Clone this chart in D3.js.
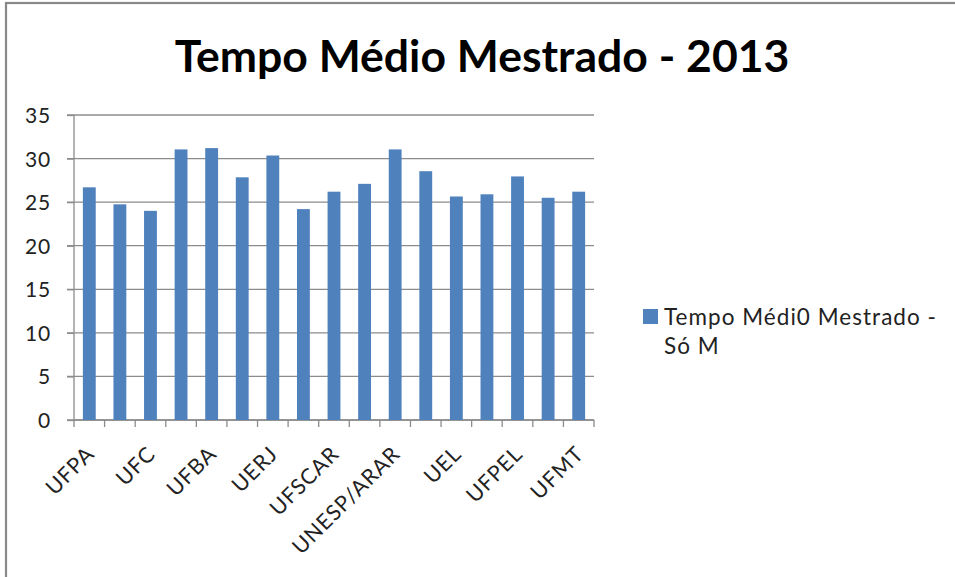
<!DOCTYPE html>
<html><head><meta charset="utf-8">
<script src="https://cdn.jsdelivr.net/npm/d3@7"></script>
<style>body{margin:0;background:#fff}svg{display:block}</style>
</head><body>
<svg id="c" width="955" height="577"></svg>
<script>
const categories = ["UFPA","UFPE","UFC","UFRN","UFBA","UFMG","UERJ","UFRJ","UFSCAR","USP","UNESP/ARAR","UFPR","UEL","UFSC","UFPEL","UFRGS","UFMT"];
const values = [26.7,24.75,24.0,31.05,31.2,27.85,30.35,24.2,26.2,27.1,31.05,28.55,25.65,25.9,27.95,25.5,26.2];
const yTicks = [0,5,10,15,20,25,30,35];
const title = "Tempo Médio Mestrado - 2013";
const legendLines = ["Tempo Médi0 Mestrado -","Só M"];
const font = "Lato, 'Open Sans', sans-serif";

const svg = d3.select("#c");
svg.append("rect").attr("x",6).attr("y",3).attr("width",960).attr("height",600)
  .attr("fill","#fff").attr("stroke","#888").attr("stroke-width",2.2);

const L=74,R=594,T=115,B=420;
const x = d3.scaleBand().domain(categories).range([L,R]).paddingInner(0.58).paddingOuter(0.29);
const y = d3.scaleLinear().domain([0,35]).range([B,T]);

// gridlines
svg.append("g").selectAll("line").data(yTicks).join("line")
  .attr("x1",67).attr("x2",R).attr("y1",d=>y(d)).attr("y2",d=>y(d))
  .attr("stroke","#8c8c8c").attr("stroke-width",1.3);

// y axis
const ya = svg.append("g").attr("transform",`translate(${L},0)`)
  .call(d3.axisLeft(y).tickValues(yTicks).tickSize(7).tickPadding(16));
ya.select(".domain").attr("stroke","#8c8c8c").attr("stroke-width",1.3).attr("d",`M0,${B}V${T}`);
ya.selectAll(".tick line").attr("stroke","#8c8c8c").attr("stroke-width",1.3);
ya.selectAll("text").attr("font-family",font).attr("font-size",21).attr("fill","#222")
  .attr("dy","0.36em").attr("letter-spacing",0.8);

// x axis
const xg = svg.append("g");
xg.append("line").attr("x1",L).attr("x2",R).attr("y1",B).attr("y2",B).attr("stroke","#8c8c8c").attr("stroke-width",1.3);
const edges = d3.range(categories.length+1).map(i=>L+i*(R-L)/categories.length);
xg.selectAll("line.t").data(edges).join("line").attr("class","t")
  .attr("x1",d=>d).attr("x2",d=>d).attr("y1",B).attr("y2",B+7)
  .attr("stroke","#8c8c8c").attr("stroke-width",1.3);

// bars
svg.append("g").selectAll("rect").data(values).join("rect")
  .attr("x",(d,i)=>x(categories[i])).attr("width",x.bandwidth())
  .attr("y",d=>y(d)).attr("height",d=>B-y(d)).attr("fill","#4F81BD");

// category labels (every other one shown)
svg.append("g").selectAll("text").data(categories.filter((c,i)=>i%2===0)).join("text")
  .attr("transform",d=>`translate(${x(d)+x.bandwidth()/2+1},${B+30}) rotate(-45)`)
  .attr("text-anchor","end").attr("font-family",font).attr("font-size",21.5).attr("fill","#222")
  .attr("letter-spacing",0.9).attr("dy","0.35em").text(d=>d);

// title
const t = svg.append("text").attr("x",482).attr("y",72).attr("text-anchor","middle")
  .attr("font-family",font).attr("font-weight","bold").attr("font-size",38).attr("fill","#000").text(title);
const tw = t.node().getComputedTextLength();
t.attr("font-size",38*615/tw);

// legend
svg.append("rect").attr("x",643).attr("y",309).attr("width",15).attr("height",15).attr("fill","#4F81BD");
const lt = svg.append("g").selectAll("text").data(legendLines).join("text")
  .attr("x",664).attr("y",(d,i)=>325+i*29)
  .attr("font-family",font).attr("font-size",22.5).attr("fill","#222").text(d=>d);
const lw = lt.nodes()[0].getComputedTextLength();
const ls = (273-lw)/legendLines[0].length;
lt.attr("letter-spacing",ls);
</script>
</body></html>
